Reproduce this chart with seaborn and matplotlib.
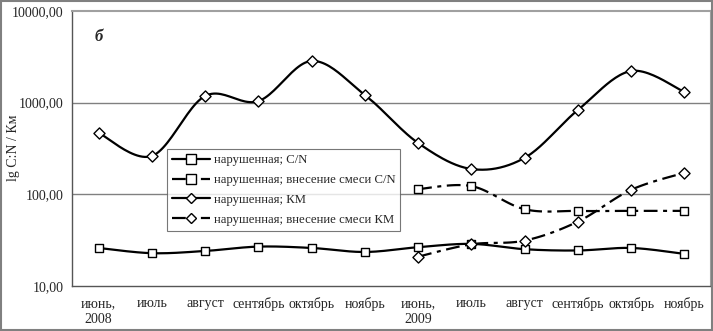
import numpy as np
import pandas as pd
import matplotlib
matplotlib.use("Agg")
import matplotlib.pyplot as plt
import seaborn as sns
from matplotlib.lines import Line2D
from matplotlib.patches import Rectangle

# ---- data ----
months = ["июнь,\n2008", "июль", "август", "сентябрь", "октябрь", "ноябрь",
          "июнь,\n2009", "июль", "август", "сентябрь", "октябрь", "ноябрь"]
cn_disturbed = [26.0, 22.8, 24.1, 26.9, 26.0, 23.5, 26.5, 28.8, 25.2, 24.4, 26.0, 22.4]
cn_mix = [None, None, None, None, None, None, 114, 123, 68.8, 65.9, 66.0, 66.0]
km_disturbed = [468, 262, 1183, 1040, 2850, 1213, 363, 189, 250, 832, 2215, 1309]
km_mix = [None, None, None, None, None, None, 20.9, 28.5, 31.3, 50.4, 112, 172]
labels = ["нарушенная; C/N", "нарушенная; внесение смеси C/N",
          "нарушенная; КМ", "нарушенная; внесение смеси КМ"]
yticks = [10, 100, 1000, 10000]
ytick_labels = ["10,00", "100,00", "1000,00", "10000,00"]

sns.set_style("white")
plt.rcParams['font.family'] = ['Liberation Serif', 'DejaVu Serif']

fig = plt.figure(figsize=(7.13, 3.31), dpi=100)
ax = fig.add_axes([72/713, 1-286/331, (711-72)/713, (286-11)/331])

LW = 1.6
DASHDOT = (0, (6.2, 2.5, 1.8, 2.5))
series = [
    (cn_disturbed, 's', '-'),
    (cn_mix, 's', DASHDOT),
    (km_disturbed, 'D', '-'),
    (km_mix, 'D', DASHDOT),
]


def bezier_smooth(xs, ys, n=25):
    xs = np.asarray(xs, float)
    ys = np.asarray(ys, float)
    m = len(xs)
    ox, oy = [], []
    for i in range(m-1):
        i0 = max(i-1, 0)
        i3 = min(i+2, m-1)
        p1 = np.array([xs[i], ys[i]])
        p2 = np.array([xs[i+1], ys[i+1]])
        p0 = np.array([xs[i0], ys[i0]])
        p3 = np.array([xs[i3], ys[i3]])
        c1 = p1 + (p2 - p0) / 6.0
        c2 = p2 - (p3 - p1) / 6.0
        t = np.linspace(0, 1, n)[:, None]
        pts = ((1-t)**3)*p1 + 3*((1-t)**2)*t*c1 + 3*(1-t)*t**2*c2 + t**3*p2
        if i > 0:
            pts = pts[1:]
        ox.extend(pts[:, 0]); oy.extend(pts[:, 1])
    return np.array(ox), np.array(oy)


for vals, mk, ls in series:
    df = pd.DataFrame({"x": np.arange(len(months)), "y": vals}).dropna()
    df["y"] = df["y"].astype(float)
    sx, sy = bezier_smooth(df["x"].values, np.log10(df["y"].values))
    ax.plot(sx, 10**sy, color="black", lw=LW, linestyle=ls, zorder=3)
    sns.scatterplot(data=df, x="x", y="y", marker=mk, s=40 if mk == 's' else 32,
                    facecolor="white", edgecolor="black", linewidth=1.0,
                    zorder=4, ax=ax, legend=False)

ax.set_yscale("log")
ax.set_ylim(10, 10000)
ax.set_xlim(-0.5, 11.5)
ax.set_yticks(yticks)
ax.set_yticklabels(ytick_labels, fontsize=10)
ax.yaxis.set_minor_locator(matplotlib.ticker.NullLocator())
ax.set_xticks(np.arange(len(months)))
ax.set_xticklabels(months, fontsize=10, linespacing=1.3)
ax.set_xticks(np.arange(-0.5, 12, 1), minor=True)
ax.tick_params(axis="x", which="major", length=0, pad=8)
ax.tick_params(axis="x", which="minor", length=5, width=0.8, direction="out", color="#555555")
ax.tick_params(axis="y", which="major", length=5, width=0.8, direction="out", color="#555555", pad=1)
ax.set_xlabel("")
ax.set_ylabel("")
fig.text(13/713, 1-148/331, "lg C:N / Км", rotation=90, fontsize=10,
         ha="center", va="center")

for yv in [100, 1000]:
    ax.axhline(yv, color="#808080", lw=1.0, zorder=1)

for side in ["left", "bottom"]:
    ax.spines[side].set_color("#555555")
    ax.spines[side].set_linewidth(1.0)
for side in ["top", "right"]:
    ax.spines[side].set_color("#a0a0a0")
    ax.spines[side].set_linewidth(1.5)

ax.text(0.035, 0.905, "б", transform=ax.transAxes, fontsize=12,
        fontweight="bold", fontstyle="italic", ha="left", va="center")

handles = [Line2D([0], [0], color="black", lw=LW, linestyle=ls, marker=mk,
                  markerfacecolor="white", markeredgecolor="black",
                  markersize=6.5 if mk == 's' else 5.5)
           for _, mk, ls in series]
leg = ax.legend(handles, labels, loc="upper left",
                bbox_to_anchor=((167-72)/639, 1-(149-11)/275),
                fontsize=9.2, frameon=True, fancybox=False, edgecolor="#555555",
                borderpad=0.4, labelspacing=0.62, handlelength=3.0,
                handletextpad=0.25, borderaxespad=0)
leg.get_frame().set_linewidth(0.8)
leg.set_zorder(5)

fig.patches.append(Rectangle((0.001, 0.002), 0.997, 0.995, transform=fig.transFigure,
                             fill=False, edgecolor="#808080", lw=1.5))

fig.savefig("out.png", dpi=100)
